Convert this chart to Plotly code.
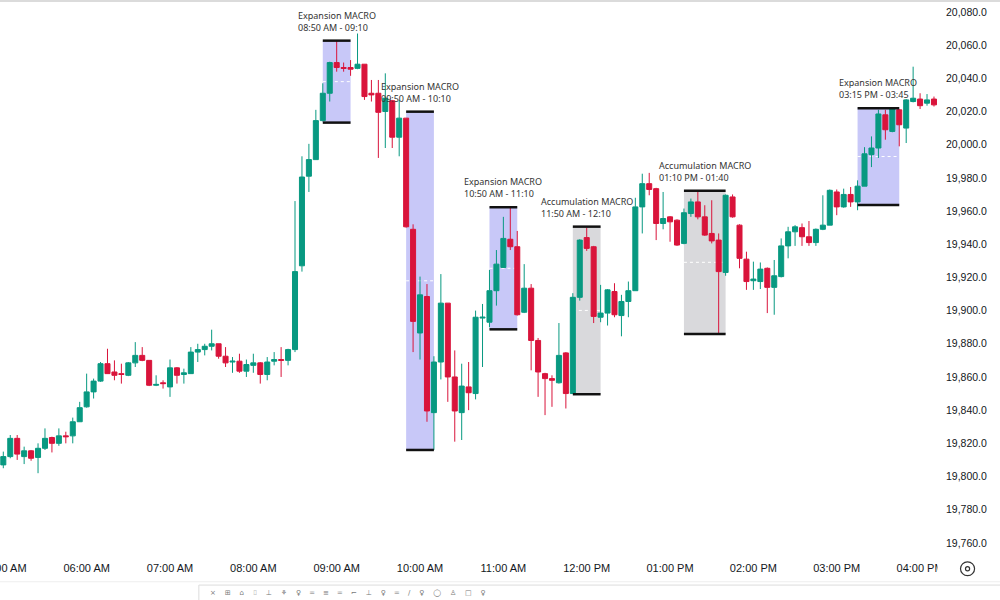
import pandas as pd
import plotly.graph_objects as go

# 5-minute candles, 05:00 AM .. 04:10 PM
opens = [19807, 19812, 19823, 19812, 19815.5, 19811.5, 19817, 19823.5, 19820, 19824.5,
         19824.5, 19833, 19842, 19851, 19857.5, 19868, 19863, 19862, 19861, 19868.5,
         19873, 19870, 19855, 19856.5, 19854, 19865.5, 19861.5, 19862, 19875, 19876.5,
         19878.5, 19880, 19872.5, 19869, 19869.5, 19863.5, 19867, 19868.5, 19861.5, 19869.5,
         19870.5, 19870, 19876.5, 19927, 19981, 19991, 20014.5, 20031, 20049.5, 20046.5,
         20046.5, 20046, 20048.5, 20031, 20031, 20020, 20026.5, 20004.5, 20016, 19949,
         19886.5, 19908.5, 19838.5, 19869, 19904.5, 19860, 19838.5, 19854, 19850, 19895.5,
         19893, 19912, 19926, 19943, 19938.5, 19899, 19913.5, 19882, 19862, 19859,
         19856.5, 19874.5, 19850, 19908, 19944, 19938.5, 19896, 19898.5, 19911.5, 19897,
         19905.5, 19912, 19962.5, 19976.5, 19973.5, 19952.5, 19956.5, 19954.5, 19940.5, 19958.5,
         19965.5, 19956.5, 19946.5, 19942.5, 19923, 19968.5, 19951.5, 19931, 19918, 19917.5,
         19925.5, 19914, 19920.5, 19939, 19947.5, 19950, 19944.5, 19941, 19949, 19951.5,
         19971.5, 19962.5, 19970, 19965.5, 19975, 19994, 19998, 20018, 20008, 20021,
         20010, 20026, 20027.5, 20025, 20027.5]
highs = [19815, 19825, 19825, 19818, 19816, 19820, 19829, 19824, 19829, 19827,
         19835.5, 19845, 19862, 19859, 19869, 19877, 19870, 19868, 19869, 19881,
         19878, 19870, 19861, 19858, 19870.5, 19866, 19865, 19878, 19880, 19880,
         19888.5, 19880, 19878, 19872, 19874, 19870.5, 19874, 19869, 19872, 19875,
         19878, 19877, 19966, 19993, 20000.5, 20021, 20037, 20050, 20063, 20049.5,
         20051, 20067, 20048.5, 20039, 20039, 20043, 20027, 20027, 20016, 19952,
         19920.5, 19916, 19872.5, 19922, 19904.5, 19876, 19868, 19869, 19900, 19904,
         19924.5, 19936.5, 19956.5, 19962, 19948, 19928, 19916, 19883.5, 19862.5, 19861,
         19892.5, 19875, 19910.5, 19943, 19950, 19939, 19915.5, 19913, 19916.5, 19909.5,
         19917.5, 19968, 19982.5, 19983, 19974, 19971.5, 19957, 19955, 19961.5, 19967.5,
         19972, 19963.5, 19966.5, 19946.5, 19970, 19970, 19952, 19935.5, 19929.5, 19929,
         19926, 19930.5, 19943.5, 19950.5, 19951.5, 19952.5, 19954, 19949.5, 19969.5, 19973,
         19973, 19973.5, 19974.5, 19978.5, 19998.5, 20005, 20021, 20021, 20022, 20021.5,
         20027.5, 20047, 20031, 20030.5, 20029]
lows = [19805, 19811, 19810, 19807.5, 19809.5, 19802, 19816, 19814.5, 19818.5, 19820,
        19820, 19833, 19841.5, 19847, 19857, 19862, 19858, 19856, 19860.5, 19866,
        19869.5, 19854.5, 19854.5, 19853, 19848, 19856, 19856, 19862, 19869, 19873,
        19876, 19871, 19866, 19862.5, 19862.5, 19860, 19862.5, 19856, 19858, 19867,
        19860, 19867, 19875, 19923.5, 19971.5, 19991, 20014, 20026, 20044, 20044,
        20041.5, 20045.5, 20027, 20026, 19992, 19998, 19998, 19993, 19950, 19875,
        19870.5, 19833, 19816, 19858.5, 19845, 19821, 19822, 19840, 19846.5, 19866,
        19890, 19903, 19926, 19936.5, 19897, 19898.5, 19864, 19848, 19837, 19842,
        19856, 19841, 19850, 19906, 19936, 19892.5, 19893, 19891, 19896, 19884.5,
        19896, 19912, 19946.5, 19969.5, 19942.5, 19949, 19941.5, 19939, 19940, 19956.5,
        19955, 19945, 19940.5, 19886, 19921, 19956, 19925.5, 19912.5, 19912.5, 19913,
        19898.5, 19897.5, 19920, 19931.5, 19939, 19939, 19939, 19939, 19948.5, 19951.5,
        19957.5, 19962, 19962.5, 19960.5, 19975, 19986.5, 19992, 20003, 20007.5, 19999,
        20001, 20025.5, 20021.5, 20023.5, 20023]
closes = [19812, 19823, 19813.5, 19815.5, 19811, 19817, 19823, 19820, 19824.5, 19824,
          19833, 19841.5, 19851, 19857.5, 19868, 19862, 19861, 19861.5, 19868.5, 19873,
          19870, 19855, 19855.5, 19856, 19865.5, 19861, 19862.5, 19875, 19876.5, 19878.5,
          19880, 19872.5, 19868.5, 19869.5, 19863.5, 19867.5, 19868.5, 19861.5, 19869, 19870.5,
          19870, 19876.5, 19923.5, 19980.5, 19991, 20014.5, 20031, 20049.5, 20046.5, 20046,
          20045.5, 20048.5, 20029, 20030, 20019.5, 20028, 20004.5, 20016, 19950.5, 19893.5,
          19909.5, 19839.5, 19869, 19904.5, 19860, 19839.5, 19854.5, 19850.5, 19896, 19896,
          19912, 19928, 19943.5, 19938.5, 19897.5, 19913.5, 19882, 19863, 19859, 19858,
          19873, 19850, 19908, 19942.5, 19937.5, 19896.5, 19898.5, 19912.5, 19897.5, 19905.5,
          19912, 19962.5, 19976.5, 19973, 19952.5, 19955.5, 19953.5, 19939.5, 19959, 19965.5,
          19956.5, 19945.5, 19942, 19923.5, 19969.5, 19956.5, 19931.5, 19917.5, 19919, 19925,
          19914, 19921, 19939, 19947.5, 19950.5, 19944.5, 19941, 19949, 19951.5, 19972.5,
          19962.5, 19970, 19965.5, 19975, 19994.5, 19998, 20018.5, 20009, 20021.5, 20012,
          20027, 20028, 20023.5, 20027, 20024]

times = pd.date_range("2024-06-07 05:00", periods=len(opens), freq="5min")

# macro windows
macro_kind = ["Expansion", "Expansion", "Expansion", "Accumulation", "Accumulation", "Expansion"]
macro_start = ["08:50", "09:50", "10:50", "11:50", "13:10", "15:15"]
macro_end = ["09:10", "10:10", "11:10", "12:10", "13:40", "15:45"]
macro_top = [20062.7, 20019.9, 19962.3, 19950.6, 19972.3, 20022]
macro_bottom = [20013.3, 19816, 19888.7, 19849.6, 19885.9, 19963.7]
macro_text = ["08:50 AM - 09:10", "09:50 AM - 10:10", "10:50 AM - 11:10",
              "11:50 AM - 12:10", "01:10 PM - 01:40", "03:15 PM - 03:45"]

day = "2024-06-07 "
green = "#089981"
red = "#d9143b"

fig = go.Figure()
fig.add_trace(go.Candlestick(
    x=times, open=opens, high=highs, low=lows, close=closes,
    increasing=dict(line=dict(color=green, width=1), fillcolor=green),
    decreasing=dict(line=dict(color=red, width=1), fillcolor=red),
    showlegend=False, hoverinfo="skip"))

for kind, s, e, top, bot, txt in zip(macro_kind, macro_start, macro_end, macro_top, macro_bottom, macro_text):
    x0 = pd.Timestamp(day + s)
    x1 = pd.Timestamp(day + e)
    fill = "#c8c8f8" if kind == "Expansion" else "#d9d9dc"
    fig.add_shape(type="rect", x0=x0, x1=x1, y0=bot, y1=top, fillcolor=fill,
                  line=dict(width=0), layer="below")
    mid = (top + bot) / 2
    fig.add_shape(type="line", x0=x0, x1=x1, y0=mid, y1=mid,
                  line=dict(color="white", width=1, dash="dot"), layer="below")
    for yy in (top, bot):
        fig.add_shape(type="line", x0=x0, x1=x1, y0=yy, y1=yy,
                      line=dict(color="#111111", width=2.5), layer="above")
    fig.add_annotation(x=x0 + (x1 - x0) / 2, y=top, yanchor="bottom", yshift=5,
                       text=f"{kind} MACRO<br>{txt}", showarrow=False, align="left",
                       font=dict(size=9, color="#333333", family="Noto Sans"))

# chrome: top border, axis strip cover, settings icon, drawing toolbar
fig.add_shape(type="line", xref="paper", yref="paper", x0=0, x1=1.07, y0=0.998, y1=0.998,
              line=dict(color="#cfcfcf", width=1.5))
fig.add_shape(type="rect", xref="paper", yref="paper", x0=0.9995, x1=1.07, y0=-0.006, y1=-0.05,
              fillcolor="white", line=dict(width=0), layer="above")
fig.add_shape(type="circle", xref="paper", yref="paper", x0=1.024, x1=1.039, y0=-0.016, y1=-0.041,
              line=dict(color="#333333", width=1.2), layer="above")
fig.add_shape(type="circle", xref="paper", yref="paper", x0=1.0293, x1=1.0337, y0=-0.0247, y1=-0.0323,
              line=dict(color="#333333", width=1.2), layer="above")
fig.add_shape(type="line", xref="paper", yref="paper", x0=0, x1=1.07, y0=-0.052, y1=-0.052,
              line=dict(color="#eeeeee", width=1), layer="above")
fig.add_shape(type="rect", xref="paper", yref="paper", x0=0.212, x1=1.08, y0=-0.058, y1=-0.12,
              fillcolor="white", line=dict(color="#dcdcdc", width=1), layer="above")
fig.add_annotation(xref="paper", yref="paper", x=0.222, y=-0.062, xanchor="left", yanchor="top",
                   text="\u00d7    \u229e    \u2302    \u2337    \u22a5    \u2698    \u2640    \u2550    \u2261    \u2550    \u2310    \u22a5    \u2640    \u2550    \u2215    \u2640    \u25ef    \u2659    \u25a1    \u2640",
                   showarrow=False, font=dict(size=7, color="#777777", family="DejaVu Sans"))

fig.update_layout(
    width=1000, height=600,
    margin=dict(l=0, r=62, t=0, b=47),
    paper_bgcolor="white", plot_bgcolor="white",
    boxgap=0.15, boxgroupgap=0.15,
    font=dict(family="Liberation Sans", color="#131722"),
)
fig.update_xaxes(
    range=[pd.Timestamp(day + "04:57:37"), pd.Timestamp(day + "16:12:54")],
    rangeslider=dict(visible=False), automargin=False,
    dtick=3600000, tick0=day + "05:00", tickformat="%I:%M %p",
    tickfont=dict(size=11, color="#131722"),
    showgrid=False, zeroline=False, showline=False, ticks="",
    ticklabelstandoff=7, ticklabeloverflow="allow",
)
fig.update_yaxes(
    side="right", range=[19753.9, 20087.2], dtick=20, tickformat=",.1f",
    automargin=False,
    tickfont=dict(size=10.5, color="#131722"),
    showgrid=False, zeroline=False, showline=False, ticks="",
    ticklabelstandoff=7,
)

fig.write_html("out.html", config={"displayModeBar": False},
               post_script="document.body.style.margin='0';")
